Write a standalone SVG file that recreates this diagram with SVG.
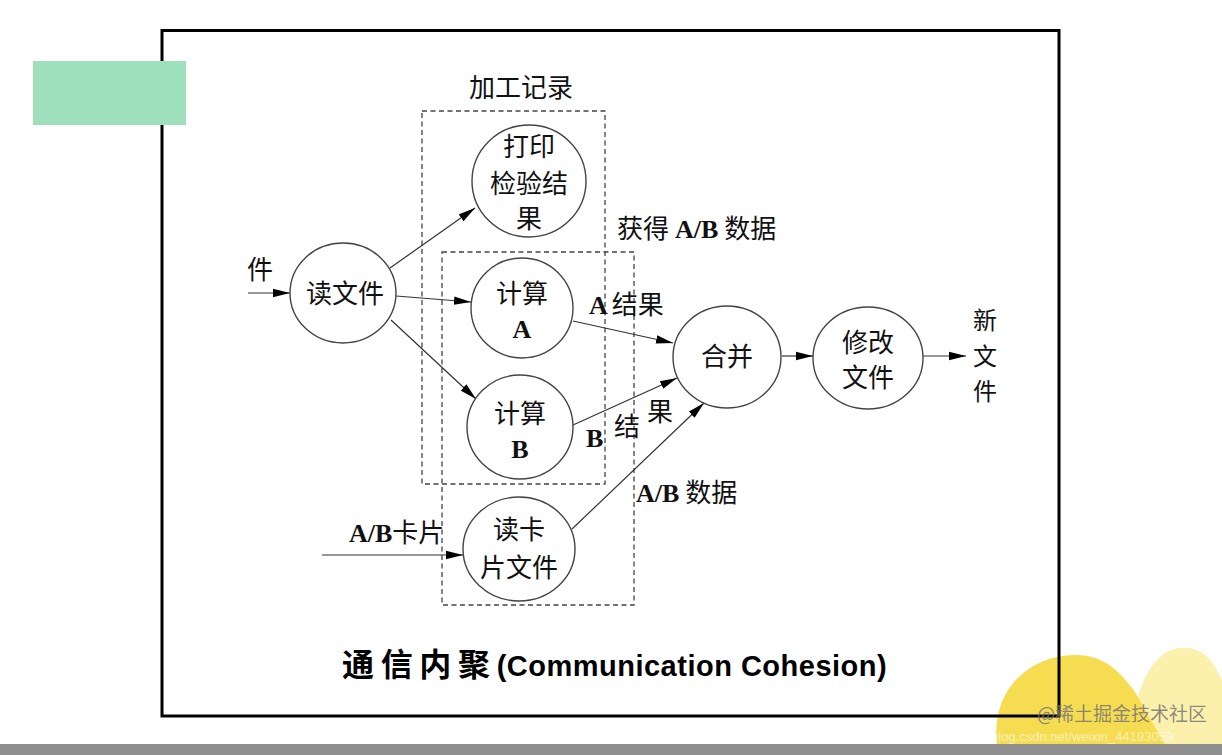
<svg xmlns="http://www.w3.org/2000/svg" width="1222" height="755" viewBox="0 0 1222 755">
<defs>
<marker id="ah" markerUnits="userSpaceOnUse" markerWidth="18" markerHeight="10" refX="17" refY="5" orient="auto">
<path d="M0,0.8 L17,5 L0,9.2 z" fill="#000"/>
</marker>
<style>
.n{fill:#fff;stroke:#444;stroke-width:1.4}
.c{stroke:#333;stroke-width:1.2;fill:none;marker-end:url(#ah)}
.d{fill:none;stroke:#444;stroke-width:1.3;stroke-dasharray:5 3.5}
.t{font-family:"Noto Sans CJK SC","Noto Sans CJK JP",sans-serif;font-size:26px;fill:#111;text-anchor:middle}
.tl{font-family:"Noto Sans CJK SC",sans-serif;font-size:26px;fill:#111}
.b{font-family:"Liberation Serif","DejaVu Serif",serif;font-weight:bold;font-size:26px;fill:#111}
</style>
</defs>
<rect x="0" y="0" width="1222" height="755" fill="#fff"/>
<!-- bottom decoration -->
<path d="M1137,745 C1128,700 1150,650 1180,648 C1205,646 1215,665 1222,680 L1222,745 z" fill="#fbf1ad"/>
<path d="M997,745 C990,690 1030,655 1075,655 C1105,655 1120,672 1135,692 L1165,745 z" fill="#f6dc50"/>
<rect x="0" y="744" width="1222" height="11" fill="#8e8e8e"/>
<!-- frame -->
<rect x="162" y="30.5" width="897" height="685.5" fill="none" stroke="#000" stroke-width="3"/>
<rect x="33" y="61" width="153" height="64" fill="#9fe0bc"/>
<!-- dashed groups -->
<g id="group-jiagong">
<rect class="d" x="422" y="111" width="183" height="373"/>
<text class="t" x="521" y="97">加工记录</text>
</g>
<g id="group-huode">
<rect class="d" x="442" y="252" width="192" height="353"/>
<text x="617" y="238"><tspan class="tl">获得</tspan><tspan class="b" dx="6">A/B</tspan><tspan class="tl" dx="6">数据</tspan></text>
</g>
<!-- connectors -->
<g id="connectors">
<line class="c" x1="248" y1="293" x2="290" y2="293"/>
<line class="c" x1="390" y1="268" x2="475" y2="208"/>
<line class="c" x1="396" y1="296" x2="471" y2="302"/>
<line class="c" x1="391" y1="320" x2="476" y2="399"/>
<line class="c" x1="573" y1="321" x2="673" y2="343"/>
<line class="c" x1="573" y1="425" x2="677" y2="378"/>
<line class="c" x1="572" y1="529" x2="704" y2="403"/>
<line class="c" x1="322" y1="555" x2="463" y2="555"/>
<line class="c" x1="782" y1="356" x2="813" y2="356"/>
<line class="c" x1="923" y1="356" x2="966" y2="356"/>
<text class="tl" x="247" y="279">件</text>
<text x="589" y="314"><tspan class="b">A</tspan><tspan class="tl" dx="4">结果</tspan></text>
<text class="b" x="586" y="447">B</text>
<text class="tl" x="614" y="436">结</text>
<text class="tl" x="647" y="421">果</text>
<text x="636" y="502"><tspan class="b">A/B</tspan><tspan class="tl" dx="6">数据</tspan></text>
<text x="349" y="542"><tspan class="b">A/B</tspan><tspan class="tl">卡片</tspan></text>
<text class="t" style="font-size:24px" x="985" y="329">新</text>
<text class="t" style="font-size:24px" x="985" y="365">文</text>
<text class="t" style="font-size:24px" x="985" y="400">件</text>
</g>
<!-- nodes -->
<g id="node-duwenjian">
<ellipse class="n" cx="343" cy="293" rx="53" ry="50"/>
<text class="t" x="345" y="303">读文件</text>
</g>
<g id="node-dayin">
<ellipse class="n" cx="529" cy="181" rx="57" ry="56"/>
<text class="t" x="529" y="156">打印</text>
<text class="t" x="529" y="193">检验结</text>
<text class="t" x="529" y="228">果</text>
</g>
<g id="node-jisuanA">
<ellipse class="n" cx="522" cy="308" rx="51" ry="50"/>
<text class="t" x="522" y="303">计算</text>
<text class="b" x="522" y="338" text-anchor="middle">A</text>
</g>
<g id="node-jisuanB">
<ellipse class="n" cx="520" cy="427" rx="53" ry="52"/>
<text class="t" x="520" y="423">计算</text>
<text class="b" x="520" y="458" text-anchor="middle">B</text>
</g>
<g id="node-dukapian">
<ellipse class="n" cx="519" cy="549" rx="56" ry="52"/>
<text class="t" x="519" y="539">读卡</text>
<text class="t" x="519" y="577">片文件</text>
</g>
<g id="node-hebing">
<ellipse class="n" cx="727" cy="357" rx="54" ry="51"/>
<text class="t" x="727" y="366">合并</text>
</g>
<g id="node-xiugai">
<ellipse class="n" cx="868" cy="358" rx="55" ry="51"/>
<text class="t" x="868" y="352">修改</text>
<text class="t" x="868" y="387">文件</text>
</g>
<!-- title -->
<text x="342" y="676" font-weight="bold" fill="#000"><tspan font-family="Noto Sans CJK SC,sans-serif" font-size="32" textLength="148">通信内聚</tspan><tspan font-family="Liberation Sans,Arial,sans-serif" font-size="29" textLength="390">(Communication Cohesion)</tspan></text>
<!-- watermark -->
<text x="1037" y="721" font-family="Noto Sans CJK SC,sans-serif" font-size="19" fill="#777" fill-opacity="0.85">@稀土掘金技术社区</text>
<text x="952" y="741" font-family="Liberation Sans,sans-serif" font-size="13" fill="#fff" fill-opacity="0.6">https://blog.csdn.net/weixin_44193059</text>
</svg>
